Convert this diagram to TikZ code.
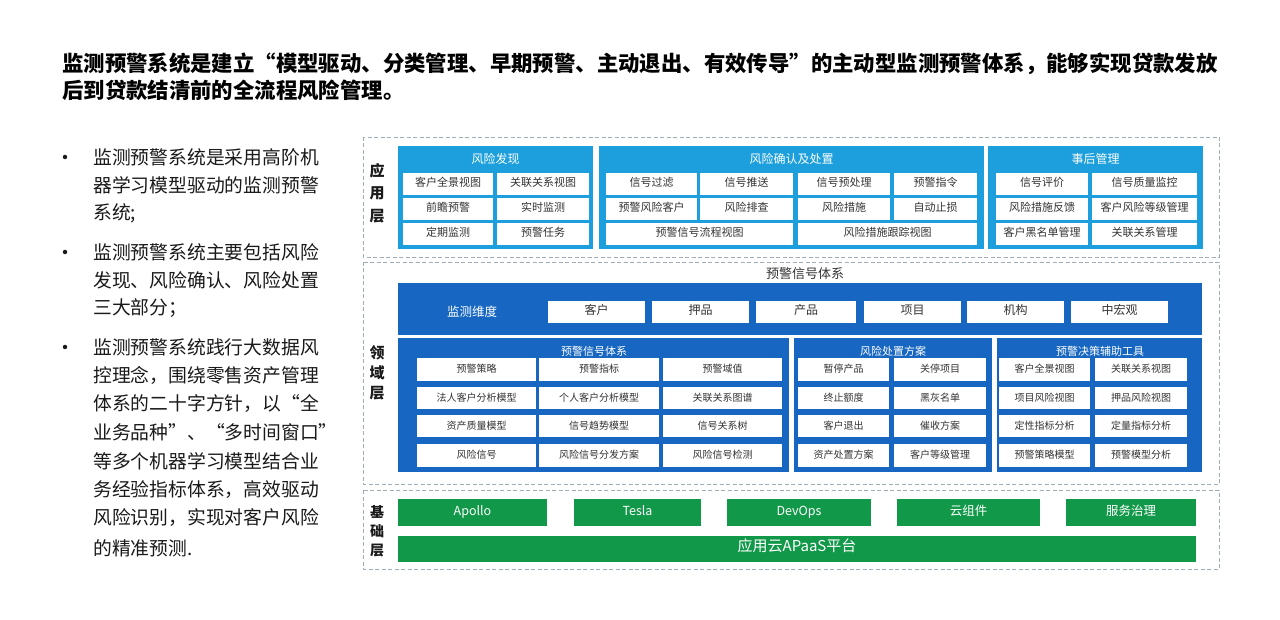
\documentclass[tikz,border=0pt]{standalone}
\usepackage{fontspec}
\setmainfont{Noto Sans CJK SC}
\definecolor{appblue}{HTML}{1C9FDC}
\definecolor{darkblue}{HTML}{1666C2}
\definecolor{fgreen}{HTML}{119849}
\definecolor{dashcol}{HTML}{9DAEB8}
\definecolor{celltxt}{HTML}{333333}
\definecolor{bodytxt}{HTML}{1A1A1A}
\tikzset{
  dashbox/.style={draw=dashcol, line width=0.9pt, dash pattern=on 4pt off 2.5pt},
  panel/.style={inner sep=0pt, outer sep=0pt},
  cellbox/.style={fill=white, inner sep=0pt, outer sep=0pt, text=celltxt, text height=0.75em, text depth=0.15em, font=\fontsize{11}{13}\selectfont},
  dcell/.style={fill=white, inner sep=0pt, outer sep=0pt, text=celltxt, text height=0.75em, text depth=0.15em, font=\fontsize{10}{12}\selectfont},
  gcell/.style={fill=fgreen, inner sep=0pt, outer sep=0pt, text=white, text height=0.72em, text depth=0.18em, font=\fontsize{12.5}{14}\selectfont},
  hdr/.style={text=white, inner sep=0pt, font=\fontsize{12}{14}\selectfont},
  layerlbl/.style={inner sep=0pt, align=center, text=bodytxt, font=\bfseries\fontsize{15}{21}\selectfont},
  titletxt/.style={anchor=west, inner sep=0pt, text=black, font=\bfseries\fontsize{21.4}{24}\selectfont},
  btxt/.style={anchor=west, inner sep=0pt, text=bodytxt, font=\fontsize{18.8}{22}\selectfont},
  bdot/.style={circle, fill=bodytxt, inner sep=0pt, minimum size=4.5pt}
}
\newcommand\mkcell[7][cellbox]{\node[#1, minimum width={#5-#3}, minimum height={#6-#4}] (#2) at ({(#3+#5)/2},{(#4+#6)/2}) {#7};}
\begin{document}
\begin{tikzpicture}[x=1pt,y=-1pt]
\useasboundingbox[fill=white] (0,0) rectangle (1280,620);

% ---------- title ----------
\node[titletxt] (t1) at (62,64) {监测预警系统是建立“模型驱动、分类管理、早期预警、主动退出、有效传导”的主动型监测预警体系，能够实现贷款发放};
\node[titletxt] (t2) at (62,90) {后到贷款结清前的全流程风险管理。};

% ---------- bullets ----------
\node[bdot] (d1) at (65,157) {};
\node[btxt] (b11) at (93,157) {监测预警系统是采用高阶机};
\node[btxt] (b12) at (93,185) {器学习模型驱动的监测预警};
\node[btxt] (b13) at (93,213) {系统;};
\node[bdot] (d2) at (65,252) {};
\node[btxt] (b21) at (93,252) {监测预警系统主要包括风险};
\node[btxt] (b22) at (93,280) {发现、风险确认、风险处置};
\node[btxt] (b23) at (93,308) {三大部分；};
\node[bdot] (d3) at (65,347) {};
\node[btxt] (b31) at (93,347) {监测预警系统践行大数据风};
\node[btxt] (b32) at (93,375) {控理念，围绕零售资产管理};
\node[btxt] (b33) at (93,404) {体系的二十字方针，以“全};
\node[btxt] (b34) at (93,432) {业务品种”、“多时间窗口”};
\node[btxt] (b35) at (93,461) {等多个机器学习模型结合业};
\node[btxt] (b36) at (93,490) {务经验指标体系，高效驱动};
\node[btxt] (b37) at (93,518) {风险识别，实现对客户风险};
\node[btxt] (b38) at (93,548) {的精准预测.};

% ---------- application layer ----------
\draw[dashbox] (363,137) rectangle (1219,257);
\node[layerlbl, font=\bfseries\fontsize{15}{22.5}\selectfont] (lapp) at (377,193) {应\\用\\层};
\mkcell[panel, fill=appblue]{A1}{398}{146}{593}{249}{}
\mkcell[panel, fill=appblue]{A2}{599}{146}{984}{249}{}
\mkcell[panel, fill=appblue]{A3}{988}{146}{1203}{249}{}
\node[hdr] (A1h) at (495.5,159) {风险发现};
\node[hdr] (A2h) at (791.5,159) {风险确认及处置};
\node[hdr] (A3h) at (1095.5,159) {事后管理};
% A1 cells
\mkcell{a11}{403}{173}{493}{195}{客户全景视图}
\mkcell{a12}{497}{173}{589}{195}{关联关系视图}
\mkcell{a13}{403}{198}{493}{220}{前瞻预警}
\mkcell{a14}{497}{198}{589}{220}{实时监测}
\mkcell{a15}{403}{223}{493}{245}{定期监测}
\mkcell{a16}{497}{223}{589}{245}{预警任务}
% A2 cells
\mkcell{a21}{606}{173}{697}{195}{信号过滤}
\mkcell{a22}{700}{173}{793}{195}{信号推送}
\mkcell{a23}{798}{173}{890}{195}{信号预处理}
\mkcell{a24}{894}{173}{977}{195}{预警指令}
\mkcell{a25}{606}{198}{697}{220}{预警风险客户}
\mkcell{a26}{700}{198}{793}{220}{风险排查}
\mkcell{a27}{798}{198}{890}{220}{风险措施}
\mkcell{a28}{894}{198}{977}{220}{自动止损}
\mkcell{a29}{606}{223}{793}{245}{预警信号流程视图}
\mkcell{a2a}{798}{223}{977}{245}{风险措施跟踪视图}
% A3 cells
\mkcell{a31}{996}{173}{1088}{195}{信号评价}
\mkcell{a32}{1092}{173}{1197}{195}{信号质量监控}
\mkcell{a33}{996}{198}{1088}{220}{风险措施反馈}
\mkcell{a34}{1092}{198}{1197}{220}{客户风险等级管理}
\mkcell{a35}{996}{223}{1088}{245}{客户黑名单管理}
\mkcell{a36}{1092}{223}{1197}{245}{关联关系管理}

% ---------- domain layer ----------
\draw[dashbox] (363,262) rectangle (1219,484);
\node[layerlbl, font=\bfseries\fontsize{15}{20}\selectfont] (ldom) at (377,373) {领\\域\\层};
\node[inner sep=0pt, text=celltxt, font=\fontsize{13}{15}\selectfont] (dh) at (805,274) {预警信号体系};
\mkcell[panel, fill=darkblue]{M}{398}{283}{1202}{335}{}
\node[hdr, font=\fontsize{12.5}{14}\selectfont] (Mh) at (472,312) {监测维度};
\mkcell[cellbox, font=\fontsize{12}{14}\selectfont]{m1}{548}{301}{645}{323}{客户}
\mkcell[cellbox, font=\fontsize{12}{14}\selectfont]{m2}{652}{301}{749}{323}{押品}
\mkcell[cellbox, font=\fontsize{12}{14}\selectfont]{m3}{756}{301}{856}{323}{产品}
\mkcell[cellbox, font=\fontsize{12}{14}\selectfont]{m4}{864}{301}{961}{323}{项目}
\mkcell[cellbox, font=\fontsize{12}{14}\selectfont]{m5}{967}{301}{1064}{323}{机构}
\mkcell[cellbox, font=\fontsize{12}{14}\selectfont]{m6}{1071}{301}{1168}{323}{中宏观}
\mkcell[panel, fill=darkblue]{D1}{398}{338}{789}{472}{}
\mkcell[panel, fill=darkblue]{D2}{794}{338}{992}{472}{}
\mkcell[panel, fill=darkblue]{D3}{997}{338}{1202}{472}{}
\node[hdr, font=\fontsize{11}{13}\selectfont] (D1h) at (594,351) {预警信号体系};
\node[hdr, font=\fontsize{11}{13}\selectfont] (D2h) at (893,351) {风险处置方案};
\node[hdr, font=\fontsize{11}{13}\selectfont] (D3h) at (1100,351) {预警决策辅助工具};
% D1 cells
\mkcell[dcell]{d11}{417}{358}{536}{381}{预警策略}
\mkcell[dcell]{d12}{539}{358}{659}{381}{预警指标}
\mkcell[dcell]{d13}{663}{358}{782}{381}{预警域值}
\mkcell[dcell]{d14}{417}{387}{536}{409}{法人客户分析模型}
\mkcell[dcell]{d15}{539}{387}{659}{409}{个人客户分析模型}
\mkcell[dcell]{d16}{663}{387}{782}{409}{关联关系图谱}
\mkcell[dcell]{d17}{417}{415}{536}{437}{资产质量模型}
\mkcell[dcell]{d18}{539}{415}{659}{437}{信号趋势模型}
\mkcell[dcell]{d19}{663}{415}{782}{437}{信号关系树}
\mkcell[dcell]{d1a}{417}{444}{536}{467}{风险信号}
\mkcell[dcell]{d1b}{539}{444}{659}{467}{风险信号分发方案}
\mkcell[dcell]{d1c}{663}{444}{782}{467}{风险信号检测}
% D2 cells
\mkcell[dcell]{d21}{798}{358}{889}{381}{暂停产品}
\mkcell[dcell]{d22}{894}{358}{986}{381}{关停项目}
\mkcell[dcell]{d23}{798}{387}{889}{409}{终止额度}
\mkcell[dcell]{d24}{894}{387}{986}{409}{黑灰名单}
\mkcell[dcell]{d25}{798}{415}{889}{437}{客户退出}
\mkcell[dcell]{d26}{894}{415}{986}{437}{催收方案}
\mkcell[dcell]{d27}{798}{444}{889}{467}{资产处置方案}
\mkcell[dcell]{d28}{894}{444}{986}{467}{客户等级管理}
% D3 cells
\mkcell[dcell]{d31}{999}{358}{1090}{381}{客户全景视图}
\mkcell[dcell]{d32}{1095}{358}{1187}{381}{关联关系视图}
\mkcell[dcell]{d33}{999}{387}{1090}{409}{项目风险视图}
\mkcell[dcell]{d34}{1095}{387}{1187}{409}{押品风险视图}
\mkcell[dcell]{d35}{999}{415}{1090}{437}{定性指标分析}
\mkcell[dcell]{d36}{1095}{415}{1187}{437}{定量指标分析}
\mkcell[dcell]{d37}{999}{444}{1090}{467}{预警策略模型}
\mkcell[dcell]{d38}{1095}{444}{1187}{467}{预警模型分析}

% ---------- foundation layer ----------
\draw[dashbox] (363,490) rectangle (1219,569);
\node[layerlbl, font=\bfseries\fontsize{14}{19}\selectfont] (lbase) at (377,531) {基\\础\\层};
\mkcell[gcell]{g1}{398}{499}{547}{526}{Apollo}
\mkcell[gcell]{g2}{574}{499}{701}{526}{Tesla}
\mkcell[gcell]{g3}{727}{499}{871}{526}{DevOps}
\mkcell[gcell]{g4}{897}{499}{1040}{526}{云组件}
\mkcell[gcell]{g5}{1066}{499}{1196}{526}{服务治理}
\mkcell[gcell, font=\fontsize{15}{17}\selectfont]{g6}{398}{536}{1196}{562}{应用云APaaS平台}
\end{tikzpicture}
\end{document}
